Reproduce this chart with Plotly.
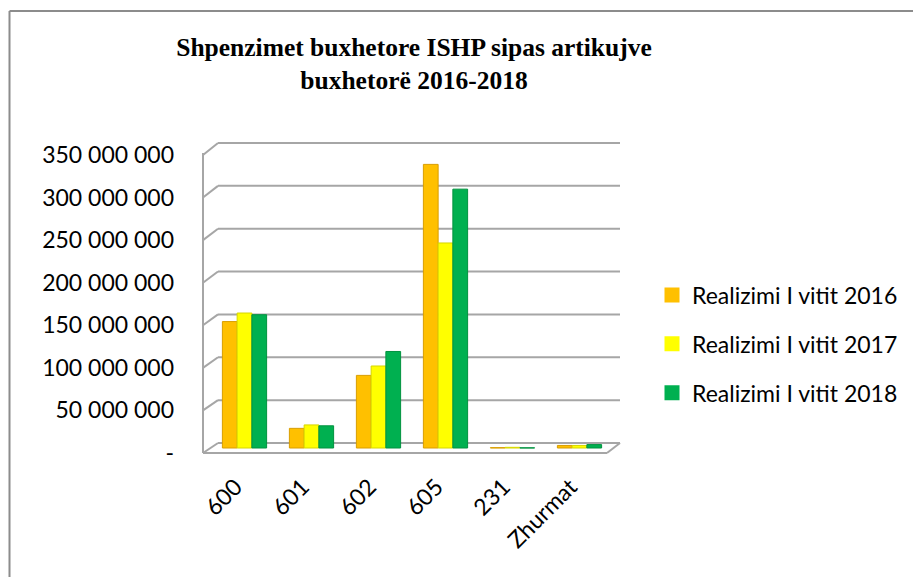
import plotly.graph_objects as go

categories = ["600", "601", "602", "605", "231", "Zhurmat"]
series_names = ["Realizimi I vitit 2016", "Realizimi I vitit 2017", "Realizimi I vitit 2018"]
values_2016 = [148_000_000, 23_000_000, 85_000_000, 332_000_000, 400_000, 3_000_000]
values_2017 = [158_000_000, 27_000_000, 96_000_000, 240_000_000, 800_000, 3_000_000]
values_2018 = [156_000_000, 26_000_000, 113_000_000, 303_000_000, 200_000, 4_000_000]
tick_values = [0, 50_000_000, 100_000_000, 150_000_000, 200_000_000, 250_000_000, 300_000_000, 350_000_000]
tick_labels = ["-", "50 000 000", "100 000 000", "150 000 000", "200 000 000",
               "250 000 000", "300 000 000", "350 000 000"]
colors = ["#FFC000", "#FFFF00", "#00B050"]
edge_colors = ["#D99E00", "#D6D600", "#00923F"]

W, H = 921, 577
OFF = 8  # page body margin
L, R, T, B = 203, 620, 143, 453  # plot area in target screen pixels
VMAX = 350_000_000

def px(x):
    return (x - L) / (R - L)

def py(y):
    return (B - y) / (B - T)

fig = go.Figure()
for name, vals, c, ec in zip(series_names, [values_2016, values_2017, values_2018], colors, edge_colors):
    fig.add_trace(go.Bar(x=categories, y=vals, name=name, showlegend=False,
                         marker=dict(color=c, line=dict(color=ec, width=1)), xaxis="x", yaxis="y"))
for name, c in zip(series_names, colors):
    fig.add_trace(go.Scatter(x=[None], y=[None], name=name, mode="markers", legendgroup=name,
                             marker=dict(symbol="square", size=15, color=c), xaxis="x", yaxis="y"))
# invisible trace holding the label axes
fig.add_trace(go.Scatter(x=categories, y=[None] * len(categories), xaxis="x2", yaxis="y2",
                         mode="none", showlegend=False, hoverinfo="skip"))

mid_per_px = VMAX / 299.0
front_per_px = VMAX / 298.0
mid_range = [-(B - 448) * mid_per_px, VMAX + (149 - T) * mid_per_px]
front_range = [0, VMAX + (155 - T) * front_per_px]

cat_px = 67.0
first_center = 244.5
x0 = -(first_center - L) / cat_px
x_range = [x0, x0 + (R - L) / cat_px]
lab_shift = 9 / cat_px
x2_range = [x_range[0] + lab_shift, x_range[1] + lab_shift]

shapes = []
gcol = "#A6A6A6"
for v in tick_values:
    yb = 443 - v * 300 / VMAX
    yf = 453 - v * 298 / VMAX
    shapes.append(dict(type="line", xref="paper", yref="paper", x0=px(218), x1=px(620), y0=py(yb), y1=py(yb),
                       line=dict(color=gcol, width=2), layer="below"))
    shapes.append(dict(type="line", xref="paper", yref="paper", x0=px(203), x1=px(218), y0=py(yf), y1=py(yb),
                       line=dict(color=gcol, width=2), layer="below"))
shapes.append(dict(type="line", xref="paper", yref="paper", x0=px(203), x1=px(203), y0=py(153), y1=py(453),
                   line=dict(color=gcol, width=2), layer="below"))
shapes.append(dict(type="line", xref="paper", yref="paper", x0=px(203), x1=px(607), y0=py(453), y1=py(453),
                   line=dict(color=gcol, width=2), layer="below"))
shapes.append(dict(type="line", xref="paper", yref="paper", x0=px(607), x1=px(620), y0=py(453), y1=py(443),
                   line=dict(color=gcol, width=2), layer="below"))
shapes.append(dict(type="line", xref="paper", yref="paper", x0=px(9.5), x1=px(930), y0=py(11), y1=py(11),
                   line=dict(color="#8C8C8C", width=2)))
shapes.append(dict(type="line", xref="paper", yref="paper", x0=px(9.5), x1=px(9.5), y0=py(11), y1=py(590),
                   line=dict(color="#8C8C8C", width=2)))

tick_font = dict(family="Lato", size=23, color="#000000")
fig.update_layout(
    width=W, height=H,
    margin=dict(l=L - OFF, r=W - (R - OFF), t=T - OFF, b=H - (B - OFF)),
    paper_bgcolor="white", plot_bgcolor="rgba(0,0,0,0)",
    barmode="group", bargap=0.34, bargroupgap=0.0,
    font=dict(family="Lato", size=23, color="#000000"),
    title=dict(text="<b>Shpenzimet buxhetore ISHP sipas artikujve<br>buxhetorë 2016-2018</b>",
               x=(414 - OFF) / W, xref="container", xanchor="center",
               y=1 - 48 / H, yref="container", yanchor="middle",
               font=dict(family="Liberation Serif", size=25.5, color="#000000")),
    xaxis=dict(type="category", range=x_range, showgrid=False, zeroline=False, showline=False,
               ticks="", showticklabels=False),
    xaxis2=dict(type="category", range=x2_range, overlaying="x", anchor="y2", side="bottom",
                showgrid=False, zeroline=False, showline=False, ticks="",
                tickangle=-45, tickfont=tick_font, ticklabelstandoff=15),
    yaxis=dict(range=mid_range, showgrid=False, zeroline=False, showticklabels=False, showline=False),
    yaxis2=dict(range=front_range, overlaying="y", anchor="x2", side="left", showgrid=False, zeroline=False,
                tickmode="array", tickvals=tick_values, ticktext=tick_labels, showline=False, ticks="",
                tickfont=tick_font, ticklabelstandoff=28),
    legend=dict(x=px(652), xanchor="left", y=py(344), yanchor="middle",
                font=dict(family="Lato", size=23, color="#000000"),
                tracegroupgap=16, itemwidth=30, bgcolor="rgba(0,0,0,0)"),
    shapes=shapes,
    showlegend=True,
)

fig.write_html("out.html")
